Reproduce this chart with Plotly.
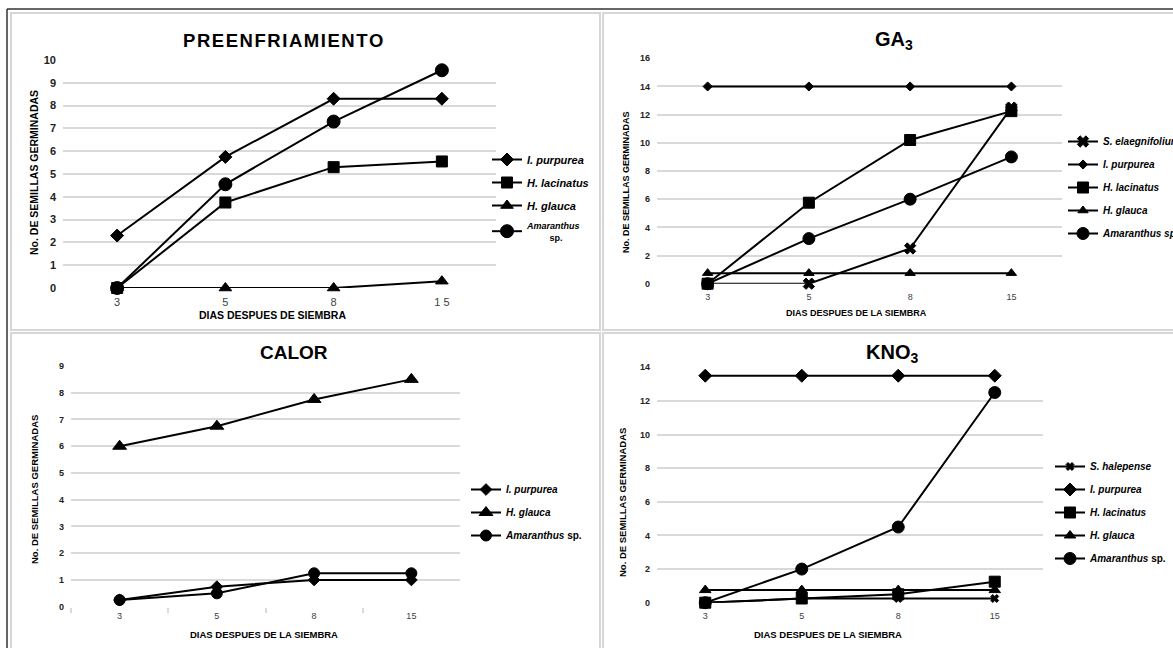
import plotly.graph_objects as go

# ---------------- data ----------------
days = ["3", "5", "8", "15"]

# PREENFRIAMIENTO
pre_purpurea = [2.3, 5.75, 8.3, 8.3]
pre_lacinatus = [0, 3.75, 5.3, 5.55]
pre_glauca = [0, 0, 0, 0.3]
pre_amaranthus = [0, 4.55, 7.3, 9.55]

# GA3
ga_elaegnifolium = [0, 0, 2.5, 12.5]
ga_purpurea = [14, 14, 14, 14]
ga_lacinatus = [0, 5.75, 10.2, 12.25]
ga_glauca = [0.75, 0.75, 0.75, 0.75]
ga_amaranthus = [0, 3.2, 6, 9]

# CALOR
cal_purpurea = [0.25, 0.75, 1, 1]
cal_glauca = [6, 6.75, 7.75, 8.5]
cal_amaranthus = [0.25, 0.5, 1.25, 1.25]

# KNO3
kno_halepense = [0, 0.25, 0.25, 0.25]
kno_purpurea = [13.5, 13.5, 13.5, 13.5]
kno_lacinatus = [0, 0.25, 0.5, 1.25]
kno_glauca = [0.75, 0.75, 0.75, 0.75]
kno_amaranthus = [0, 2, 4.5, 12.5]

W, H = 1173, 648
FONT = "Liberation Sans, Arial, sans-serif"


def px(x):
    return x / W


def py(y):
    return 1 - y / H


fig = go.Figure()


def add(xa, ya, leg, name, vals, symbol, size, grp):
    fig.add_trace(go.Scatter(
        x=days, y=vals, mode="lines+markers", name=name,
        xaxis=xa, yaxis=ya, legend=leg, legendgroup=grp,
        line=dict(color="black", width=2),
        marker=dict(symbol=symbol, size=size, color="black",
                    line=dict(color="black", width=1)),
        cliponaxis=False, showlegend=True,
    ))


def it(s):
    return "<b><i>" + s + "</i></b>"


# Panel 1
add("x", "y", "legend", it("I. purpurea"), pre_purpurea, "diamond", 10, "p1a")
add("x", "y", "legend", it("H. lacinatus"), pre_lacinatus, "square", 11, "p1b")
add("x", "y", "legend", it("H. glauca"), pre_glauca, "triangle-up", 11, "p1c")
add("x", "y", "legend5",
    "<b><i>Amaranthus</i><br>         sp.</b>",
    pre_amaranthus, "circle", 13, "p1d")

# Panel 2
add("x2", "y2", "legend2", it("S. elaegnifolium"), ga_elaegnifolium, "x", 10, "p2a")
add("x2", "y2", "legend2", it("I. purpurea"), ga_purpurea, "diamond", 7, "p2b")
add("x2", "y2", "legend2", it("H. lacinatus"), ga_lacinatus, "square", 11, "p2c")
add("x2", "y2", "legend2", it("H. glauca"), ga_glauca, "triangle-up", 9, "p2d")
add("x2", "y2", "legend2", it("Amaranthus sp."), ga_amaranthus, "circle", 12, "p2e")

# Panel 3
add("x3", "y3", "legend3", it("I. purpurea"), cal_purpurea, "diamond", 9, "p3a")
add("x3", "y3", "legend3", it("H. glauca"), cal_glauca, "triangle-up", 12, "p3b")
add("x3", "y3", "legend3", "<b><i>Amaranthus</i> sp.</b>", cal_amaranthus, "circle", 11, "p3c")

# Panel 4
add("x4", "y4", "legend4", it("S. halepense"), kno_halepense, "x", 7, "p4a")
add("x4", "y4", "legend4", it("I. purpurea"), kno_purpurea, "diamond", 10, "p4b")
add("x4", "y4", "legend4", it("H. lacinatus"), kno_lacinatus, "square", 11, "p4c")
add("x4", "y4", "legend4", it("H. glauca"), kno_glauca, "triangle-up", 10, "p4d")
add("x4", "y4", "legend4", "<b><i>Amaranthus</i> sp.</b>", kno_amaranthus, "circle", 12, "p4e")

GRID = "#d9d9d9"


def xax(x0, x1, anchor, ticktext=None, tsize=10, bticks=False):
    d = dict(domain=[px(x0), px(x1)], anchor=anchor, type="category",
             categoryorder="array", categoryarray=days,
             range=[-0.5, 3.5], showgrid=False, zeroline=False,
             showline=False, ticks="", fixedrange=True,
             ticklabelstandoff=6,
             tickfont=dict(family=FONT, size=tsize, color="#404040"))
    if ticktext:
        d.update(tickmode="array", tickvals=days, ticktext=ticktext)
    if bticks:
        d.update(ticks="outside", tickson="boundaries", ticklen=5,
                 tickcolor=GRID, tickwidth=1.5, ticklabelstandoff=2)
    return d


def yax(y0, y1, anchor, rmax, dtick, tsize=10, weight="bold"):
    return dict(domain=[py(y1), py(y0)], anchor=anchor, range=[0, rmax],
                dtick=dtick, tick0=0, showgrid=True, gridcolor=GRID,
                gridwidth=1.5, zeroline=False, showline=False, ticks="",
                ticklabelstandoff=6, fixedrange=True,
                tickfont=dict(family=FONT, size=tsize, color="#222222",
                              weight=weight))


legfont = dict(family=FONT, size=10, color="black")
fig.update_layout(
    width=W, height=H, margin=dict(l=0, r=0, t=0, b=0, autoexpand=False),
    paper_bgcolor="white", plot_bgcolor="white",
    font=dict(family=FONT, color="black"),
    xaxis=xax(63, 496, "y", ticktext=["3", "5", "8", "1 5"], tsize=11),
    yaxis=yax(60, 288, "x", 10, 1, tsize=11),
    xaxis2=xax(657, 1062, "y2", tsize=9),
    yaxis2=yax(58.3, 283.7, "x2", 16, 2, tsize=9),
    xaxis3=xax(71, 460, "y3", tsize=9, bticks=True),
    yaxis3=yax(366, 606.7, "x3", 9, 1, tsize=9),
    xaxis4=xax(657, 1043, "y4", tsize=9),
    yaxis4=yax(367.3, 602.7, "x4", 14, 2, tsize=9),
    legend=dict(x=px(487), y=py(145), xanchor="left", yanchor="top",
                font=dict(family=FONT, size=11, color="black"),
                tracegroupgap=4, bgcolor="rgba(0,0,0,0)"),
    legend5=dict(x=px(487), y=py(213), xanchor="left", yanchor="top",
                 font=dict(family=FONT, size=9, color="black"),
                 bgcolor="rgba(0,0,0,0)"),
    legend2=dict(x=px(1063), y=py(127), xanchor="left", yanchor="top",
                 font=legfont, tracegroupgap=4, bgcolor="rgba(0,0,0,0)"),
    legend3=dict(x=px(466), y=py(475), xanchor="left", yanchor="top",
                 font=legfont, tracegroupgap=4, bgcolor="rgba(0,0,0,0)"),
    legend4=dict(x=px(1050), y=py(452), xanchor="left", yanchor="top",
                 font=legfont, tracegroupgap=4, bgcolor="rgba(0,0,0,0)"),
    showlegend=True,
)

# titles and axis titles
ann = []


def text(x, y, s, size, angle=0, color="black"):
    ann.append(dict(x=px(x), y=py(y), xref="paper", yref="paper", text=s,
                    showarrow=False, textangle=angle, xanchor="center",
                    yanchor="middle",
                    font=dict(family=FONT, size=size, color=color)))


text(283, 41, "<b>P R E E N F R I A M I E N T O</b>".replace(" ", "\u200a"), 18.5)
text(894, 40, "<b>GA<sub>3</sub></b>", 20)
text(294, 352, "<b>CALOR</b>", 19)
text(892, 353, "<b>KNO<sub>3</sub></b>", 20)

ytitle = "<b>No. DE SEMILLAS GERMINADAS</b>"
text(34, 173, ytitle, 10.5, -90)
text(626, 182, ytitle, 9, -90)
text(34, 490, ytitle, 9.5, -90)
text(622, 503, ytitle, 9.5, -90)

text(272, 315, "<b>DIAS DESPUES DE SIEMBRA</b>", 10.5)
text(856, 313, "<b>DIAS DESPUES DE LA SIEMBRA</b>", 9)
text(264, 634, "<b>DIAS DESPUES DE LA SIEMBRA</b>", 9.5)
text(828, 634, "<b>DIAS DESPUES DE LA SIEMBRA</b>", 9.5)
fig.update_layout(annotations=ann)

# panel frames
shapes = []
LF = "#d6d6d6"
for (x0, y0, x1, y1) in [(11, 13, 600, 330), (603, 13, 1180, 330),
                         (11, 333, 600, 660), (603, 333, 1180, 660)]:
    shapes.append(dict(type="rect", xref="paper", yref="paper",
                       x0=px(x0), x1=px(x1), y0=py(y1), y1=py(y0),
                       line=dict(color=LF, width=2), layer="below"))
shapes.append(dict(type="line", xref="paper", yref="paper", x0=px(7), x1=1.01,
                   y0=py(9), y1=py(9), line=dict(color="#333333", width=1.5)))
shapes.append(dict(type="line", xref="paper", yref="paper", x0=px(7), x1=px(7),
                   y0=py(9), y1=-0.01, line=dict(color="#333333", width=1.5)))
fig.update_layout(shapes=shapes)

fig.write_html("out.html", config={"displayModeBar": False},
               post_script="document.body.style.margin='0';"
                           "document.body.style.overflow='hidden';")
